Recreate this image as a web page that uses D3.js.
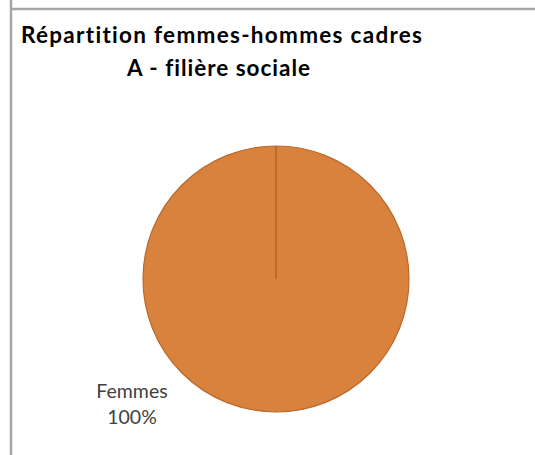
<!DOCTYPE html>
<html>
<head>
<meta charset="utf-8">
<script src="https://cdn.jsdelivr.net/npm/d3@7"></script>
<style>
	body { margin: 0; background: #fff; }
	svg { display: block; }
	text { font-variant-ligatures: none; }
</style>
</head>
<body>
<svg id="chart" width="535" height="455"></svg>
<script>
const categories = ["Femmes", "Hommes"];
const values = [100, 0];
const titleLines = ["Répartition femmes-hommes cadres", "A - filière sociale"];

const svg = d3.select("#chart");
const font = "Lato, 'Open Sans', sans-serif";

// chart frame (only top and left edges visible)
svg.append("line").attr("x1", 11).attr("x2", 11).attr("y1", 0).attr("y2", 455)
	.attr("stroke", "#a6a6a6").attr("stroke-width", 2.5);
svg.append("line").attr("x1", 11).attr("x2", 535).attr("y1", 9).attr("y2", 9)
	.attr("stroke", "#a6a6a6").attr("stroke-width", 2.5);

// title, stretched a little to the width of the original Calibri text
svg.append("text").attr("x", 21).attr("y", 43)
	.attr("font-family", font).attr("font-weight", "bold").attr("font-size", 22.5)
	.attr("textLength", 401).attr("lengthAdjust", "spacing")
	.attr("fill", "#000").text(titleLines[0]);
svg.append("text").attr("x", 127).attr("y", 76)
	.attr("font-family", font).attr("font-weight", "bold").attr("font-size", 22.5)
	.attr("textLength", 183).attr("lengthAdjust", "spacing")
	.attr("fill", "#000").text(titleLines[1]);

const cx = 276, cy = 279, r = 133;
const data = categories.map((c, i) => ({ name: c, value: values[i] }));
const pie = d3.pie().sort(null).value(d => d.value);
const arc = d3.arc().innerRadius(0).outerRadius(r);
const color = d3.scaleOrdinal().domain(categories).range(["#d9823d", "#5b9bd5"]);

const g = svg.append("g").attr("transform", `translate(${cx},${cy})`);
g.selectAll("path").data(pie(data)).join("path")
	.attr("d", arc)
	.attr("fill", d => color(d.data.name))
	.attr("stroke", "#b8692d").attr("stroke-width", 1.2);

// Excel draws a radius at 12 o'clock where the full slice starts
g.append("line").attr("x1", 0).attr("y1", 0).attr("x2", 0).attr("y2", -r)
	.attr("stroke", "#b8692d").attr("stroke-width", 1.2);

const lbl = svg.append("text").attr("font-family", font).attr("font-size", 19.5)
	.attr("fill", "#404040").attr("text-anchor", "middle");
lbl.append("tspan").attr("x", 132).attr("y", 398).text(categories[0]);
lbl.append("tspan").attr("x", 132).attr("y", 424).text(d3.format(".0%")(values[0] / d3.sum(values)));
</script>
</body>
</html>
